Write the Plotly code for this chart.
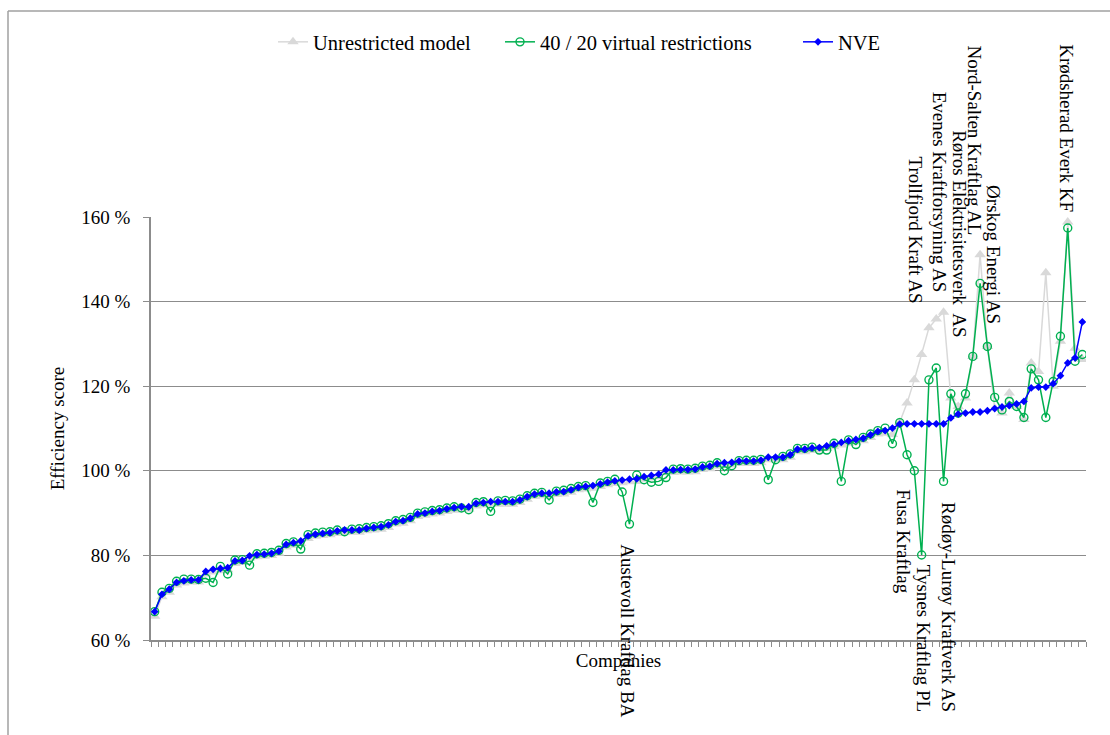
import plotly.graph_objects as go

# ---------------- data ----------------
company_no = list(range(1, 129))

unrestricted = [65.6, 70.2, 71.3, 73.0, 73.5, 73.7, 73.7, 75.6, 76.1, 76.4,
                76.6, 78.1, 78.3, 79.4, 79.7, 79.8, 80.0, 80.5, 82.0, 82.4,
                82.8, 84.0, 84.5, 84.7, 84.9, 85.2, 85.4, 85.5, 85.5, 85.8,
                86.0, 86.2, 86.6, 87.4, 87.6, 88.2, 89.2, 89.5, 89.8, 90.0,
                90.4, 90.7, 90.9, 90.9, 91.7, 91.9, 92.1, 92.1, 92.1, 92.1,
                92.5, 93.3, 93.9, 94.1, 94.1, 94.4, 94.5, 94.9, 95.5, 95.7,
                95.9, 96.3, 96.7, 97.0, 97.2, 97.4, 97.5, 98.0, 98.3, 98.6,
                99.6, 99.6, 99.7, 99.7, 99.8, 100.3, 100.5, 101.1, 101.3, 101.4,
                101.7, 101.7, 101.7, 101.9, 102.6, 102.6, 102.6, 103.2, 104.5, 104.5,
                104.8, 104.9, 105.3, 105.7, 106.1, 106.5, 106.8, 107.1, 107.9, 108.7,
                108.9, 108.6, 111.5, 116.0, 121.5, 127.5, 133.8, 135.9, 137.5, 117.2,
                115.2, 117.2, 127.05, 151.1, 129.4, 114.8, 113.65, 118.4, 115.2, 112.1,
                125.5, 123.5, 146.8, 120.0, 130.6, 158.8, 129.0, 126.3]

virtual_40_20 = [66.7, 71.3, 72.2, 73.9, 74.4, 74.4, 74.3, 74.6, 73.6, 77.4,
                 75.6, 78.9, 79.0, 77.7, 80.4, 80.5, 80.7, 81.2, 82.8, 83.2,
                 81.5, 84.9, 85.3, 85.5, 85.6, 86.0, 85.6, 86.2, 86.3, 86.6,
                 86.8, 87.0, 87.5, 88.2, 88.5, 89.0, 90.0, 90.3, 90.6, 90.8,
                 91.2, 91.5, 91.2, 90.8, 92.5, 92.7, 90.4, 92.9, 93.0, 92.9,
                 93.3, 94.1, 94.7, 94.9, 93.1, 95.2, 95.4, 95.8, 96.3, 96.5,
                 92.5, 97.1, 97.5, 98.0, 95.0, 87.4, 99.0, 97.9, 97.3, 97.5,
                 98.4, 100.4, 100.5, 100.4, 100.6, 101.1, 101.3, 101.9, 100.0, 101.2,
                 102.4, 102.5, 102.5, 102.7, 97.9, 102.6, 103.4, 104.0, 105.3, 105.3,
                 105.6, 104.9, 104.9, 106.5, 97.5, 107.3, 106.2, 107.9, 108.7, 109.5,
                 110.1, 106.4, 111.4, 103.8, 100.0, 80.1, 121.5, 124.3, 97.5, 118.2,
                 113.65, 118.2, 127.05, 144.3, 129.4, 117.35, 114.4, 116.4, 115.2, 112.6,
                 124.1, 121.5, 112.6, 121.1, 131.8, 157.4, 125.9, 127.5]

nve = [66.7, 70.8, 72.0, 73.6, 74.0, 74.2, 74.2, 76.2, 76.7, 76.9,
       77.1, 78.7, 78.8, 79.9, 80.2, 80.3, 80.5, 81.0, 82.6, 83.0,
       83.4, 84.6, 85.0, 85.2, 85.4, 85.8, 86.0, 86.0, 86.0, 86.4,
       86.6, 86.8, 87.2, 88.0, 88.2, 88.8, 89.8, 90.0, 90.4, 90.6,
       91.0, 91.3, 91.5, 91.5, 92.3, 92.5, 92.7, 92.7, 92.7, 92.7,
       93.1, 93.9, 94.5, 94.7, 94.7, 95.0, 95.1, 95.5, 96.1, 96.3,
       96.5, 96.9, 97.3, 97.6, 97.8, 98.0, 98.1, 98.6, 98.9, 99.2,
       100.2, 100.2, 100.3, 100.3, 100.4, 100.9, 101.1, 101.7, 101.9, 102.0,
       102.3, 102.3, 102.3, 102.5, 103.2, 103.2, 103.2, 103.8, 105.1, 105.1,
       105.4, 105.5, 105.9, 106.3, 106.7, 107.1, 107.4, 107.7, 108.5, 109.3,
       109.5, 110.1, 111.05, 111.1, 111.1, 111.1, 111.1, 111.1, 111.1, 112.5,
       113.4, 113.65, 113.9, 113.9, 114.2, 114.7, 115.1, 115.4, 115.8, 116.4,
       119.6, 119.8, 119.8, 120.6, 122.5, 125.5, 126.7, 135.2]

y_tick_values = [60, 80, 100, 120, 140, 160]
y_tick_labels = ["60 %", "80 %", "100 %", "120 %", "140 %", "160 %"]

# company name labels: name, company position, label end value (%), side
label_names = ["Trollfjord Kraft AS", "Evenes Kraftforsyning AS", "Røros Elektrisitetsverk  AS",
               "Nord-Salten Kraftlag AL", "Ørskog Energi AS", "Krødsherad Everk KF",
               "Austevoll Kraftlag BA", "Fusa Kraftlag", "Tysnes Kraftlag PL",
               "Rødøy-Lurøy Kraftverk AS"]
label_company = [105.2, 108.4, 111.25, 113.2, 115.9, 125.8, 65.8, 103.5, 106.3, 109.6]
label_value = [139.0, 141.7, 131.0, 155.1, 134.1, 160.6, 83.2, 96.0, 78.2, 93.1]
label_side = ["above", "above", "above", "above", "above", "above",
              "below", "below", "below", "below"]

# ---------------- styling ----------------
FONT = "Liberation Serif, Times New Roman, serif"
FS = 19
GRID = "#8c8c8c"
Y_MIN, Y_MAX = 60, 160
W, H = 1110, 735
M_L, M_R, M_T, M_B = 151, 24, 217, 95
PW, PH = W - M_L - M_R, H - M_T - M_B


def px_x(px):
    return (px - M_L) / PW


def px_y(py):
    return (H - M_B - py) / PH


fig = go.Figure()
fig.add_trace(go.Scatter(
    x=company_no, y=unrestricted, mode="lines+markers", name="Unrestricted model",
    line=dict(color="#d9d9d9", width=1.5),
    marker=dict(symbol="triangle-up", size=10, color="#d9d9d9"),
    legend="legend"))
fig.add_trace(go.Scatter(
    x=company_no, y=virtual_40_20, mode="lines+markers", name="40 / 20 virtual restrictions",
    line=dict(color="#00b050", width=1.5),
    marker=dict(symbol="circle-open", size=8, color="#00b050", line=dict(width=1.4)),
    legend="legend2"))
fig.add_trace(go.Scatter(
    x=company_no, y=nve, mode="lines+markers", name="NVE",
    line=dict(color="#0000ff", width=1.5),
    marker=dict(symbol="diamond", size=6, color="#0000ff"),
    legend="legend3"))

annotations = []
for name, cx, val, side in zip(label_names, label_company, label_value, label_side):
    annotations.append(dict(
        x=cx, xref="x", y=(val - Y_MIN) / (Y_MAX - Y_MIN), yref="paper",
        text=name, showarrow=False, textangle=90,
        xanchor="center", yanchor="bottom" if side == "above" else "top",
        font=dict(family=FONT, size=FS, color="black")))

n = len(company_no)
legend_common = dict(orientation="h", xref="container", yref="container",
                     yanchor="middle", xanchor="left", y=1 - 42 / H,
                     font=dict(family=FONT, size=20.5, color="black"),
                     bgcolor="rgba(0,0,0,0)", borderwidth=0)

border = dict(color="#a0a0a0", width=1.5)

fig.update_layout(
    width=W, height=H,
    margin=dict(l=M_L, r=M_R, t=M_T, b=M_B),
    paper_bgcolor="white", plot_bgcolor="white",
    font=dict(family=FONT, size=FS, color="black"),
    showlegend=True,
    legend=dict(legend_common, x=273 / W),
    legend2=dict(legend_common, x=500 / W),
    legend3=dict(legend_common, x=798 / W),
    annotations=annotations,
    xaxis=dict(
        range=[0.5, n + 0.5],
        tickvals=[k + 0.5 for k in range(0, n + 1)],
        showticklabels=False, ticks="outside", ticklen=5, tickcolor=GRID, tickwidth=1,
        showgrid=False, zeroline=False,
        showline=True, linecolor=GRID, linewidth=1.5,
        title=dict(text="Companies", font=dict(family=FONT, size=FS), standoff=8)),
    yaxis=dict(
        range=[Y_MIN, Y_MAX],
        tickvals=y_tick_values, ticktext=y_tick_labels,
        ticks="outside", ticklen=6, tickcolor=GRID, tickwidth=1,
        ticklabelstandoff=9,
        showgrid=True, gridcolor=GRID, gridwidth=1.3,
        zeroline=False, showline=True, linecolor=GRID, linewidth=1.5,
        tickfont=dict(family=FONT, size=FS),
        title=dict(text="Efficiency score", font=dict(family=FONT, size=FS), standoff=12)),
    shapes=[
        dict(type="line", xref="paper", yref="paper",
             x0=px_x(8), x1=px_x(W + 2), y0=px_y(11), y1=px_y(11), line=border, layer="below"),
        dict(type="line", xref="paper", yref="paper",
             x0=px_x(8), x1=px_x(8), y0=px_y(11), y1=px_y(H + 2), line=border, layer="below"),
    ],
)

fig.write_html("out.html")
